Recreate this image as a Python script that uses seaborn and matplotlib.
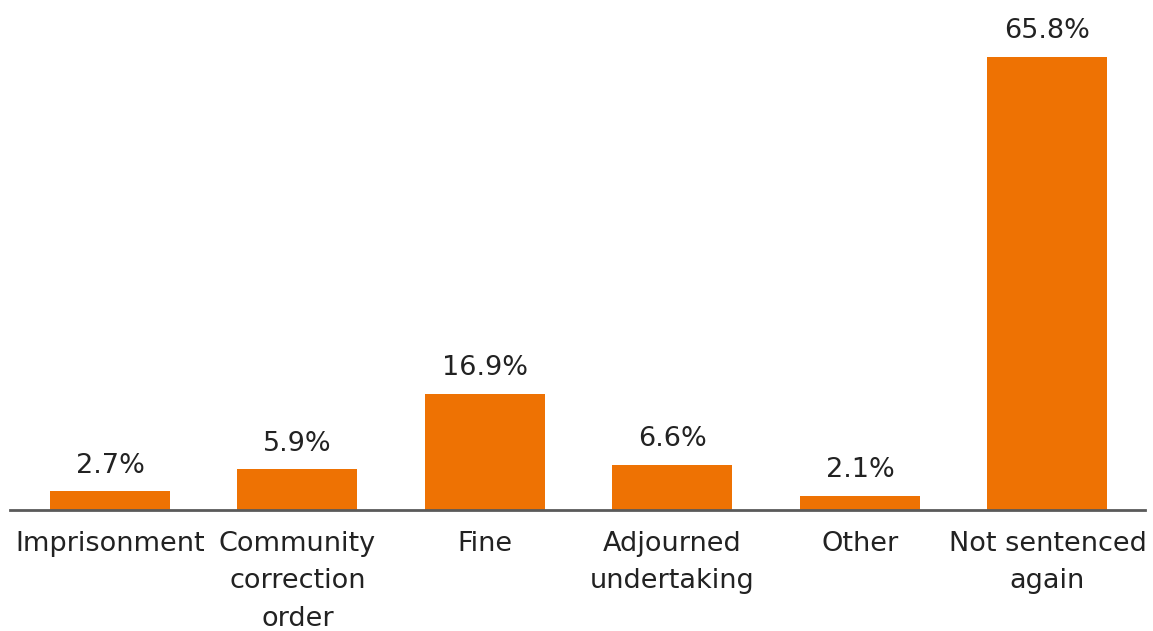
import matplotlib
matplotlib.use("Agg")
import matplotlib.pyplot as plt
import seaborn as sns
import pandas as pd

categories = ["Imprisonment", "Community\ncorrection\norder", "Fine",
              "Adjourned\nundertaking", "Other", "Not sentenced\nagain"]
values = [2.7, 5.9, 16.9, 6.6, 2.1, 65.8]
value_labels = ["2.7%", "5.9%", "16.9%", "6.6%", "2.1%", "65.8%"]

sns.set_theme(style="white")
plt.rcParams["font.family"] = ["DejaVu Sans"]

df = pd.DataFrame({"category": categories, "value": values})

fig = plt.figure(figsize=(11.53, 6.31), dpi=100)
ax = fig.add_axes([10 / 1153, 121 / 631, 1135 / 1153, 500 / 631])

sns.barplot(data=df, x="category", y="value", color="#EE7203",
            saturation=1, width=0.64, linewidth=0, ax=ax)

for patch, lab in zip(ax.patches, value_labels):
    ax.annotate(lab, (patch.get_x() + patch.get_width() / 2, patch.get_height()),
                xytext=(0, 9), textcoords="offset points",
                ha="center", va="bottom", fontsize=19.5, color="#222222")

ax.set_xlim(-0.533, 5.52)
ax.set_ylim(0, 500 / 6.885)
ax.set_xlabel("")
ax.set_ylabel("")
ax.set_yticks([])
for s in ["top", "right", "left"]:
    ax.spines[s].set_visible(False)
ax.spines["bottom"].set_color("#5a5a5a")
ax.spines["bottom"].set_linewidth(2)
ax.tick_params(axis="x", length=0, pad=15, labelsize=19.5, labelcolor="#222222")
for t in ax.get_xticklabels():
    t.set_linespacing(1.58)

fig.savefig("out.png", dpi=100, facecolor="white")
